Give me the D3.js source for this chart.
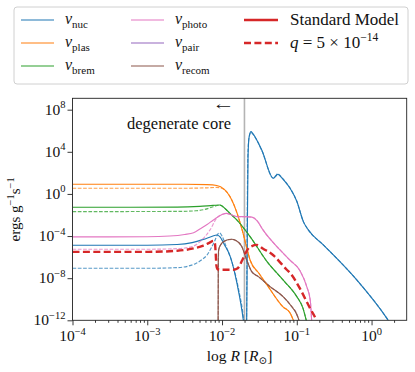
<!DOCTYPE html>
<html lang="en">
<head>
<meta charset="UTF-8">
<title>Neutrino emission</title>
<script src="https://d3js.org/d3.v7.min.js"></script>
<style>
  body { margin: 0; padding: 0; background: #fff; }
</style>
</head>
<body>
<div id="chart"></div>
<script>
// every curve is a list of [log10 R, log10 emission]
var nucSM = [[-4,-4.87],[-3,-4.87],[-2.6,-4.8],[-2.4,-4.62],[-2.25,-4.32],[-2.13,-4.02],[-2.07,-3.9],[-2.03,-4.05],[-1.97,-4.8],[-1.89,-5.95],[-1.80,-8.5],[-1.715,-12],[-1.69,-13.5],[-1.672,-13.5],[-1.662,-4],[-1.652,3.6],[-1.638,5.4],[-1.612,5.92],[-1.59,5.75],[-1.469,4.18],[-1.314,1.49],[-1.28,1.7],[-1.255,1.87],[-1.21,1.6],[-1.157,1.17],[-1.09,0.54],[-1.0,-0.7],[-0.912,-2.63],[-0.846,-3.42],[-0.645,-4.84],[-0.198,-8.17],[0.203,-11.8],[0.25,-12.3]];
var nucQ = [[-4,-7.06],[-3,-7.06],[-2.6,-7.0],[-2.45,-6.85],[-2.35,-6.6],[-2.27,-6.25],[-2.2,-5.8],[-2.15,-5.2],[-2.1,-4.5],[-2.06,-3.85],[-2.035,-3.7],[-2.0,-4.0],[-1.95,-4.9],[-1.87,-6.4],[-1.78,-9.0],[-1.71,-12],[-1.69,-13.5],[-1.675,-13.5],[-1.665,-4],[-1.655,3.5],[-1.64,5.3],[-1.612,5.85],[-1.59,5.7],[-1.469,4.15],[-1.314,1.5],[-1.28,1.75],[-1.255,1.92],[-1.21,1.65],[-1.157,1.2],[-1.09,0.55],[-1.0,-0.7],[-0.912,-2.63],[-0.846,-3.42],[-0.645,-4.84],[-0.198,-8.17],[0.203,-11.8],[0.25,-12.3]];
var plasSM = [[-4,0.92],[-2.5,0.92],[-2.2,0.88],[-2.07,0.8],[-1.973,0.45],[-1.893,-0.26],[-1.8,-1.8],[-1.72,-3.7],[-1.652,-5.6],[-1.625,-6.27],[-1.5,-7.6],[-1.398,-8.64],[-1.184,-10.73],[-1.09,-11.3],[-1.04,-12.1]];
var plasQ = [[-4,0.54],[-2.5,0.54],[-2.2,0.58],[-2.07,0.62],[-1.973,0.42],[-1.893,-0.26],[-1.8,-1.8],[-1.72,-3.7],[-1.652,-5.6],[-1.625,-6.27],[-1.5,-7.6],[-1.398,-8.64],[-1.184,-10.73],[-1.09,-11.3],[-1.04,-12.1]];
var bremSM = [[-4,-1.27],[-2.6,-1.25],[-2.3,-1.18],[-2.12,-1.09],[-2.03,-1.05],[-1.95,-1.45],[-1.88,-1.95],[-1.803,-2.47],[-1.625,-4.05],[-1.398,-6.43],[-1.184,-8.17],[-1.0,-9.75],[-0.92,-10.8],[-0.87,-12.1]];
var bremQ = [[-4,-1.68],[-2.6,-1.66],[-2.35,-1.6],[-2.23,-1.47],[-2.12,-1.22],[-2.05,-1.08],[-2.03,-1.06],[-1.95,-1.45],[-1.88,-1.95],[-1.803,-2.47],[-1.625,-4.05],[-1.398,-6.43],[-1.184,-8.17],[-1.0,-9.75],[-0.92,-10.8],[-0.87,-12.1]];
var photoSM = [[-4,-4.08],[-3,-4.07],[-2.7,-4.0],[-2.5,-3.85],[-2.38,-3.68],[-2.29,-3.3],[-2.2,-2.9],[-2.116,-2.47],[-2.0,-1.95],[-1.94,-1.84],[-1.88,-1.97],[-1.80,-2.15],[-1.70,-2.15],[-1.60,-2.2],[-1.53,-2.55],[-1.452,-3.42],[-1.224,-5.32],[-1.09,-6.3],[-0.957,-7.3],[-0.867,-8.8],[-0.82,-10.1],[-0.80,-12.2]];
var photoQ = [[-4,-5.25],[-3,-5.25],[-2.6,-5.2],[-2.4,-5.0],[-2.294,-4.53],[-2.161,-3.42],[-2.071,-2.3],[-1.98,-1.9],[-1.94,-1.85],[-1.88,-1.97],[-1.80,-2.15],[-1.70,-2.15],[-1.60,-2.2],[-1.53,-2.55],[-1.452,-3.42],[-1.224,-5.32],[-1.09,-6.3],[-0.957,-7.3],[-0.867,-8.8],[-0.82,-10.1],[-0.80,-12.2]];
var recomSM = [[-2.053,-13],[-2.05,-6],[-2.045,-5.3],[-2.02,-4.85],[-1.97,-4.5],[-1.91,-4.33],[-1.87,-4.3],[-1.82,-4.4],[-1.736,-5.0],[-1.67,-6.27],[-1.603,-7.38],[-1.514,-7.85],[-1.358,-8.8],[-1.184,-9.75],[-1.09,-10.5],[-0.98,-11.8],[-0.96,-12.3]];
var recomQ = [[-2.051,-13],[-2.048,-6],[-2.043,-5.3],[-2.02,-4.87],[-1.97,-4.52],[-1.91,-4.35],[-1.87,-4.32],[-1.82,-4.42],[-1.736,-5.0],[-1.67,-6.27],[-1.603,-7.38],[-1.514,-7.85],[-1.358,-8.8],[-1.184,-9.75],[-1.09,-10.5],[-0.98,-11.8],[-0.96,-12.3]];
var totalQ = [[-4,-5.5],[-3,-5.5],[-2.6,-5.4],[-2.4,-5.2],[-2.25,-4.9],[-2.16,-4.6],[-2.116,-4.45],[-2.095,-4.7],[-2.085,-5.6],[-2.075,-6.8],[-2.06,-7.15],[-2.0,-7.2],[-1.85,-7.2],[-1.79,-7.05],[-1.73,-6.3],[-1.66,-5.3],[-1.60,-4.95],[-1.536,-4.84],[-1.45,-5.2],[-1.318,-5.8],[-1.134,-7.2],[-1.09,-7.5],[-0.957,-9.0],[-0.82,-10.9],[-0.75,-11.8],[-0.72,-12.3]];

var xTicks = [-4, -3, -2, -1, 0];
var yTicks = [-12, -8, -4, 0, 4, 8];
var coreEdge = -1.70;  // log R of the degenerate core boundary

var margin = { top: 98.3, right: 8.3, bottom: 51.7, left: 72.5 },
    W = 415, H = 372,
    width = W - margin.left - margin.right,
    height = H - margin.top - margin.bottom;

var svg = d3.select("#chart").append("svg")
    .attr("width", W)
    .attr("height", H)
    .attr("font-family", "'Liberation Serif', 'DejaVu Serif', serif");

var x = d3.scaleLog().domain([1e-4, Math.pow(10, 0.47)]).range([0, width]);
var y = d3.scaleLog().domain([1e-12, Math.pow(10, 9.08)]).range([height, 0]);

var g = svg.append("g").attr("transform", "translate(" + margin.left + "," + margin.top + ")");

g.append("clipPath").attr("id", "plotclip")
    .append("rect").attr("width", width).attr("height", height);

var line = d3.line()
    .x(function (d) { return x(Math.pow(10, d[0])); })
    .y(function (d) { return y(Math.pow(10, d[1])); })
    .curve(d3.curveMonotoneX);

var C = { nuc: "#1f77b4", plas: "#ff7f0e", brem: "#2ca02c", photo: "#e377c2", pair: "#9467bd", recom: "#8c564b", red: "#d62728" };

var series = [
    { data: nucSM, color: C.nuc }, { data: plasSM, color: C.plas }, { data: bremSM, color: C.brem },
    { data: photoSM, color: C.photo }, { data: recomSM, color: C.recom },
    { data: nucQ, color: C.nuc, dash: true }, { data: plasQ, color: C.plas, dash: true },
    { data: bremQ, color: C.brem, dash: true }, { data: photoQ, color: C.photo, dash: true },
    { data: recomQ, color: C.recom, dash: true }
];

var plot = g.append("g").attr("clip-path", "url(#plotclip)");

// core boundary
plot.append("line")
    .attr("x1", x(Math.pow(10, coreEdge))).attr("x2", x(Math.pow(10, coreEdge)))
    .attr("y1", 0).attr("y2", height)
    .attr("stroke", "#b4b4b4").attr("stroke-width", 1.6);

plot.selectAll("path.comp")
    .data(series)
    .enter().append("path")
    .attr("class", "comp")
    .attr("d", function (d) { return line(d.data); })
    .attr("fill", "none")
    .attr("stroke", function (d) { return d.color; })
    .attr("stroke-width", 1.15)
    .attr("stroke-opacity", function (d) { return d.dash ? 0.75 : 1; })
    .attr("stroke-dasharray", function (d) { return d.dash ? "3.7,1.6" : null; });

plot.append("path")
    .attr("d", line(totalQ))
    .attr("fill", "none")
    .attr("stroke", C.red)
    .attr("stroke-width", 2.4)
    .attr("stroke-dasharray", "7,3.4");

// axes
var xMinor = [];
for (var e = -4; e <= 0; e++) for (var k = 2; k <= 9; k++) {
    var v = k * Math.pow(10, e);
    if (v <= x.domain()[1]) xMinor.push(v);
}

g.append("g").attr("transform", "translate(0," + height + ")")
    .call(d3.axisBottom(x).tickValues(xMinor).tickSize(2.5).tickFormat(""))
    .call(function (s) { s.select(".domain").remove(); });

var xAxis = g.append("g").attr("transform", "translate(0," + height + ")")
    .call(d3.axisBottom(x).tickValues(xTicks.map(function (t) { return Math.pow(10, t); })).tickSize(5).tickFormat(""));
xAxis.select(".domain").remove();

var yAxis = g.append("g")
    .call(d3.axisLeft(y).tickValues(yTicks.map(function (t) { return Math.pow(10, t); })).tickSize(5).tickFormat(""));
yAxis.select(".domain").remove();

g.selectAll(".tick line").attr("stroke", "#222").attr("stroke-width", 0.9);

g.append("rect").attr("width", width).attr("height", height)
    .attr("fill", "none").attr("stroke", "#222").attr("stroke-width", 0.9);

function powLabel(sel, exp) {
    sel.append("tspan").text("10");
    sel.append("tspan").attr("font-size", 10.5).attr("dy", -6.5)
        .text(exp < 0 ? "\u2212" + (-exp) : exp);
}

xTicks.forEach(function (t) {
    var tx = g.append("text")
        .attr("x", x(Math.pow(10, t))).attr("y", height + 21)
        .attr("text-anchor", "middle").attr("font-size", 15.5).attr("fill", "#111");
    powLabel(tx, t);
});

yTicks.forEach(function (t) {
    var ty = g.append("text")
        .attr("x", -7).attr("y", y(Math.pow(10, t)) + 5)
        .attr("text-anchor", "end").attr("font-size", 15.5).attr("fill", "#111");
    powLabel(ty, t);
});

// axis titles
var xl = svg.append("text")
    .attr("x", margin.left + width / 2).attr("y", 361)
    .attr("text-anchor", "middle").attr("font-size", 15.5).attr("fill", "#111");
xl.append("tspan").text("log ");
xl.append("tspan").attr("font-style", "italic").text("R");
xl.append("tspan").text(" [");
xl.append("tspan").attr("font-style", "italic").text("R");
xl.append("tspan").attr("font-size", 10.5).attr("dy", 3).text("\u2299");
xl.append("tspan").attr("dy", -3).text("]");

var yl = svg.append("text")
    .attr("transform", "translate(20," + (margin.top + height / 2) + ") rotate(-90)")
    .attr("text-anchor", "middle").attr("font-size", 15).attr("fill", "#111");
yl.append("tspan").text("ergs g");
yl.append("tspan").attr("font-size", 10.5).attr("dy", -6).text("\u22121");
yl.append("tspan").attr("dy", 6).text("s");
yl.append("tspan").attr("font-size", 10.5).attr("dy", -6).text("\u22121");

// annotation: arrow widened horizontally so it stays short
var ann = g.append("g").attr("fill", "#111").attr("text-anchor", "end");
ann.append("text")
    .attr("transform", "translate(" + (231 - margin.left) + "," + (110 - margin.top) + ") scale(1.5,1)")
    .attr("font-family", "'DejaVu Serif', serif").attr("font-size", 12).text("\u2190");
ann.append("text").attr("x", 231 - margin.left).attr("y", 129 - margin.top)
    .attr("font-size", 16.5).text("degenerate core");

// legend
var legendNu = [
    { name: "nuc", color: C.nuc }, { name: "plas", color: C.plas }, { name: "brem", color: C.brem },
    { name: "photo", color: C.photo }, { name: "pair", color: C.pair }, { name: "recom", color: C.recom }
];
var legendModels = [
    { label: "Standard Model", dash: false },
    { label: "q", dash: true }
];

var leg = svg.append("g");
leg.append("rect").attr("x", 14).attr("y", 7).attr("width", 394).attr("height", 77).attr("rx", 3)
    .attr("fill", "#fff").attr("stroke", "#d0d0d0").attr("stroke-width", 1);

var rowY = [20, 43, 66];
legendNu.forEach(function (d, i) {
    var col = Math.floor(i / 3), row = i % 3;
    var lx = col === 0 ? 21 : 131;
    leg.append("line").attr("x1", lx).attr("x2", lx + 33).attr("y1", rowY[row]).attr("y2", rowY[row])
        .attr("stroke", d.color).attr("stroke-width", 1.15);
    var t = leg.append("text").attr("x", lx + 44).attr("y", rowY[row] + 4).attr("font-size", 16).attr("fill", "#111");
    t.append("tspan").attr("font-style", "italic").text("\u03bd");
    t.append("tspan").attr("font-size", 11).attr("dy", 3.5).text(d.name);
});

legendModels.forEach(function (d, i) {
    leg.append("line").attr("x1", 244).attr("x2", 278).attr("y1", rowY[i]).attr("y2", rowY[i])
        .attr("stroke", C.red).attr("stroke-width", 2.4)
        .attr("stroke-dasharray", d.dash ? "7,3.4" : null);
    var t = leg.append("text").attr("x", 290).attr("y", rowY[i] + 5).attr("font-size", 17).attr("fill", "#111");
    if (!d.dash) {
        t.text(d.label);
    } else {
        t.append("tspan").attr("font-style", "italic").text("q");
        t.append("tspan").text(" = 5 \u00d7 10");
        t.append("tspan").attr("font-size", 11.5).attr("dy", -7).text("\u221214");
    }
});
</script>
</body>
</html>
